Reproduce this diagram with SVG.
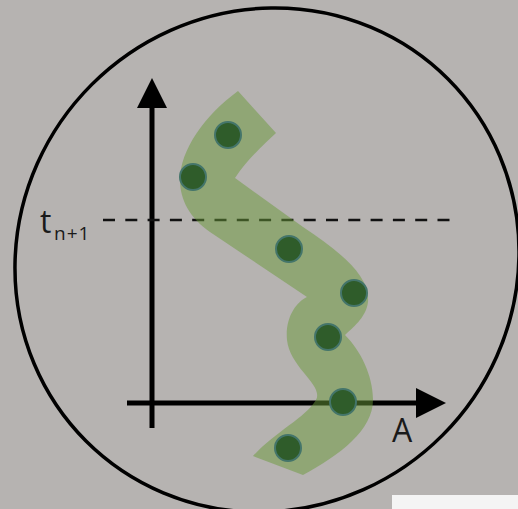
<svg xmlns="http://www.w3.org/2000/svg" width="518" height="509" viewBox="0 0 518 509">
  <style>
    .axis { stroke: #000; stroke-width: 5; fill: none; }
    .head { fill: #000; }
    .dash { stroke: #111; stroke-width: 2.5; stroke-dasharray: 12 10.3; fill: none; }
    .dot { fill: #2f5c2a; stroke: #44756a; stroke-width: 2; }
    .lbl { font-family: "Open Sans", "Liberation Sans", sans-serif; fill: #1a1a1a; }
  </style>
  <rect id="background" x="0" y="0" width="518" height="509" fill="#b6b3b1"/>
  <g id="frame">
    <ellipse cx="267" cy="260" rx="256" ry="248" transform="rotate(-45 267 260)" fill="none" stroke="#000" stroke-width="3.5"/>
  </g>
  <g id="connectors">
    <line class="axis" x1="152" y1="428" x2="152" y2="104"/>
    <polygon class="head" points="152,78 137,108 167,108"/>
    <line class="axis" x1="127" y1="403" x2="420" y2="403"/>
    <polygon class="head" points="446,403 416,388 416,418"/>
    <line class="dash" x1="103" y1="220" x2="450" y2="220"/>
  </g>
  <g id="band">
    <path d="M 238,91 L 276,133 C 262,146 245,162 235,178 L 303,227 C 340,252 370,275 368,302 C 366,318 352,328 345,335 C 360,350 373,375 373,400 C 373,430 340,455 303,475 L 253,456 C 275,432 305,418 316,400 C 324,385 290,368 287,340 C 285,318 296,302 307,297 L 210,232 C 190,218 180,200 180,180 C 180,150 205,115 238,91 Z" fill="#6a9a3a" fill-opacity="0.5"/>
  </g>
  <g id="dots">
    <circle class="dot" cx="228" cy="135" r="13"/>
    <circle class="dot" cx="193" cy="177" r="13"/>
    <circle class="dot" cx="289" cy="249" r="13"/>
    <circle class="dot" cx="354" cy="293" r="13"/>
    <circle class="dot" cx="328" cy="337" r="13"/>
    <circle class="dot" cx="343" cy="402" r="13"/>
    <circle class="dot" cx="288" cy="448" r="13"/>
  </g>
  <g id="label-t">
    <text class="lbl" x="40" y="233" font-size="32">t<tspan x="54" y="240" font-size="19" letter-spacing="1">n+1</tspan></text>
  </g>
  <g id="label-A">
    <text class="lbl" x="392" y="442" font-size="32">A</text>
  </g>
  <rect id="corner-patch" x="392" y="495" width="126" height="14" fill="#f4f4f4"/>
</svg>
